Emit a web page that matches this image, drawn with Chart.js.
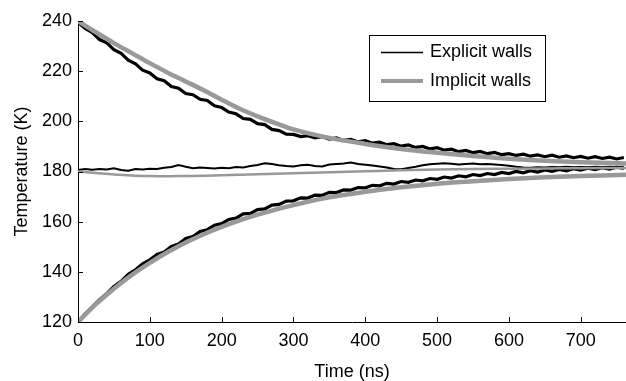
<!DOCTYPE html>
<html>
<head>
<meta charset="utf-8">
<script src="https://cdn.jsdelivr.net/npm/chart.js@4.4.0/dist/chart.umd.min.js"></script>
<style>
  html, body { margin: 0; padding: 0; background: #fff; }
  canvas { display: block; }
</style>
</head>
<body>
<canvas id="chart" width="626" height="381"></canvas>
<script>
// explicit-wall runs, read every 10 ns (noisy)
const timeExplicit = [
  0, 10, 20, 30, 40, 50, 60, 70, 80, 90,
  100, 110, 120, 130, 140, 150, 160, 170, 180, 190,
  200, 210, 220, 230, 240, 250, 260, 270, 280, 290,
  300, 310, 320, 330, 340, 350, 360, 370, 380, 390,
  400, 410, 420, 430, 440, 450, 460, 470, 480, 490,
  500, 510, 520, 530, 540, 550, 560, 570, 580, 590,
  600, 610, 620, 630, 640, 650, 660, 670, 680, 690,
  700, 710, 720, 730, 740, 750, 760
];
const hotExplicit = [
  239.5, 237.0, 235.4, 232.6, 231.3, 228.6, 227.1, 224.4, 222.9, 220.4,
  219.3, 217.0, 216.2, 213.9, 213.2, 211.1, 210.6, 208.8, 208.3, 206.2,
  205.5, 203.7, 203.0, 201.1, 200.8, 199.1, 198.7, 196.8, 196.3, 194.9,
  194.8, 193.9, 194.3, 193.4, 193.9, 192.9, 193.4, 192.4, 192.8, 191.8,
  192.3, 191.3, 191.7, 190.7, 191.1, 190.1, 190.6, 189.6, 190.0, 189.0,
  189.5, 188.5, 188.9, 187.9, 188.4, 187.5, 188.0, 187.1, 187.6, 186.7,
  187.1, 186.4, 186.9, 186.1, 186.6, 185.9, 186.5, 185.7, 186.2, 185.5,
  186.0, 185.3, 185.9, 185.2, 185.7, 185.0, 185.6
];
const coldExplicit = [
  120.0, 123.2, 126.0, 128.9, 131.3, 134.2, 136.2, 139.0, 140.8, 143.2,
  144.8, 146.9, 147.9, 150.1, 151.1, 153.3, 154.1, 156.1, 156.8, 158.6,
  159.2, 160.9, 161.4, 163.1, 163.3, 164.8, 165.1, 166.6, 166.9, 168.2,
  168.3, 169.5, 169.4, 170.6, 170.5, 171.7, 171.6, 172.7, 172.6, 173.6,
  173.5, 174.5, 174.3, 175.3, 175.0, 176.0, 175.7, 176.6, 176.3, 177.2,
  176.9, 177.8, 177.4, 178.3, 177.9, 178.8, 178.4, 179.2, 178.8, 179.6,
  179.2, 180.0, 179.5, 180.3, 179.8, 180.6, 180.1, 180.8, 180.3, 181.1,
  180.6, 181.3, 180.8, 181.5, 181.0, 181.7, 181.2
];
const midExplicit = [
  180.6, 181.0, 180.7, 181.0, 180.8, 181.3, 180.6, 180.3, 181.0, 180.8,
  181.1, 181.0, 181.5, 181.8, 182.6, 181.9, 181.3, 181.6, 181.4, 181.2,
  181.5, 181.3, 181.8, 181.6, 182.2, 182.6, 183.3, 183.0, 182.5, 182.2,
  182.0, 182.5, 182.7, 182.2, 182.0, 182.8, 183.0, 183.2, 183.6, 183.0,
  182.7, 182.4, 182.0, 181.6, 181.0, 180.9, 181.4, 181.9, 182.5, 182.9,
  183.1, 183.3, 183.1, 182.8, 183.0, 183.2, 182.9, 183.0, 182.8, 182.6,
  182.3, 181.9, 181.6, 181.5, 181.7, 181.6, 181.8, 181.7, 181.9, 181.7,
  181.8, 181.7, 181.9, 181.8, 181.9, 181.8, 181.9
];

// implicit-wall runs (smooth)
const timeImplicit = [0, 25, 50, 75, 100, 125, 150, 175, 200, 225, 250, 275, 300, 350, 400, 450, 500, 550, 600, 650, 700, 763];
const hotImplicit  = [240, 235.5, 231.2, 227.2, 223.2, 219.4, 215.9, 212.4, 208.6, 205.0, 202.0, 199.3, 196.8, 193.4, 191.0, 189.0, 187.5, 186.2, 185.1, 184.3, 183.7, 183.2];
const coldImplicit = [120, 127.1, 133.3, 138.8, 143.6, 147.9, 151.7, 155.0, 157.9, 160.5, 162.8, 164.8, 166.6, 169.7, 171.9, 173.7, 175.1, 176.1, 177.0, 177.7, 178.2, 178.7];
const midImplicit  = [180, 179.4, 178.8, 178.4, 178.2, 178.1, 178.2, 178.3, 178.5, 178.7, 178.9, 179.1, 179.3, 179.7, 180.1, 180.5, 180.8, 181.0, 181.1, 181.2, 181.3, 181.4];

const seriesNames = ['Explicit walls', 'Implicit walls'];
const xTicks = [0, 100, 200, 300, 400, 500, 600, 700];
const yTicks = [120, 140, 160, 180, 200, 220, 240];

const BLACK = '#000000';
const GREY = '#999999';
const FONT = "'Liberation Sans', Arial, sans-serif";

const pts = (xs, ys) => ys.map((v, i) => ({ x: xs[i], y: v }));

function line(label, xs, ys, color, width, order, smooth) {
    return {
        label: label,
        data: pts(xs, ys),
        borderColor: color,
        borderWidth: width,
        pointRadius: 0,
        fill: false,
        tension: smooth ? 0.4 : 0,
        cubicInterpolationMode: smooth ? 'monotone' : 'default',
        order: order
    };
}

// tick marks point into the plot
const innerTicks = {
    id: 'innerTicks',
    afterDatasetsDraw(chart) {
        const { ctx, chartArea, scales: { x, y } } = chart;
        ctx.save();
        ctx.strokeStyle = BLACK;
        ctx.lineWidth = 1;
        xTicks.forEach(v => {
            const px = Math.round(x.getPixelForValue(v)) + 0.5;
            ctx.beginPath();
            ctx.moveTo(px, chartArea.bottom);
            ctx.lineTo(px, chartArea.bottom - 5);
            ctx.stroke();
        });
        yTicks.forEach(v => {
            const py = Math.round(y.getPixelForValue(v)) + 0.5;
            ctx.beginPath();
            ctx.moveTo(chartArea.left, py);
            ctx.lineTo(chartArea.left + 5, py);
            ctx.stroke();
        });
        ctx.restore();
    }
};

// boxed legend inside the plot
const boxLegend = {
    id: 'boxLegend',
    afterDraw(chart) {
        const ctx = chart.ctx;
        const bx = 369.5, by = 35.5, bw = 176, bh = 66;
        ctx.save();
        ctx.fillStyle = '#fff';
        ctx.fillRect(bx, by, bw, bh);
        ctx.strokeStyle = BLACK;
        ctx.lineWidth = 1;
        ctx.strokeRect(bx, by, bw, bh);
        const rows = [
            { text: seriesNames[0], color: BLACK, width: 1.5, y: 52.5 },
            { text: seriesNames[1], color: GREY, width: 4, y: 81 }
        ];
        rows.forEach(r => {
            ctx.strokeStyle = r.color;
            ctx.lineWidth = r.width;
            ctx.beginPath();
            ctx.moveTo(381, r.y);
            ctx.lineTo(423, r.y);
            ctx.stroke();
            ctx.fillStyle = BLACK;
            ctx.font = '18px ' + FONT;
            ctx.textBaseline = 'middle';
            ctx.textAlign = 'left';
            ctx.fillText(r.text, 430, r.y);
        });
        ctx.restore();
    }
};

new Chart(document.getElementById('chart'), {
    type: 'line',
    data: {
        datasets: [
            line(seriesNames[1], timeImplicit, hotImplicit, GREY, 4.5, 0, true),
            line(seriesNames[1], timeImplicit, coldImplicit, GREY, 4.5, 0, true),
            line(seriesNames[1], timeImplicit, midImplicit, GREY, 2.5, 0, true),
            line(seriesNames[0], timeExplicit, hotExplicit, BLACK, 3.2, 1, false),
            line(seriesNames[0], timeExplicit, coldExplicit, BLACK, 3.2, 1, false),
            line(seriesNames[0], timeExplicit, midExplicit, BLACK, 2, 1, false)
        ]
    },
    options: {
        responsive: false,
        animation: false,
        devicePixelRatio: 1,
        layout: { padding: { top: 21, right: 0, left: 0, bottom: 0 } },
        plugins: {
            legend: { display: false },
            tooltip: { enabled: false }
        },
        scales: {
            x: {
                type: 'linear',
                min: 0,
                max: 763,
                afterBuildTicks: s => { s.ticks = xTicks.map(v => ({ value: v })); },
                afterFit: s => { s.height = 59; },
                grid: { display: false, drawTicks: false },
                border: { display: true, color: BLACK, width: 1 },
                ticks: { color: BLACK, padding: 8, font: { family: FONT, size: 18 } },
                title: {
                    display: true,
                    text: 'Time (ns)',
                    color: BLACK,
                    padding: { top: 0, bottom: -2 },
                    font: { family: FONT, size: 18 }
                }
            },
            y: {
                type: 'linear',
                min: 120,
                max: 240,
                afterBuildTicks: s => { s.ticks = yTicks.map(v => ({ value: v })); },
                afterFit: s => { s.width = 78; },
                grid: { display: false, drawTicks: false },
                border: { display: true, color: BLACK, width: 1 },
                ticks: { color: BLACK, padding: 6, font: { family: FONT, size: 18 } },
                title: {
                    display: true,
                    text: 'Temperature (K)',
                    color: BLACK,
                    padding: { top: 11, bottom: 0 },
                    font: { family: FONT, size: 18 }
                }
            }
        }
    },
    plugins: [innerTicks, boxLegend]
});
</script>
</body>
</html>
